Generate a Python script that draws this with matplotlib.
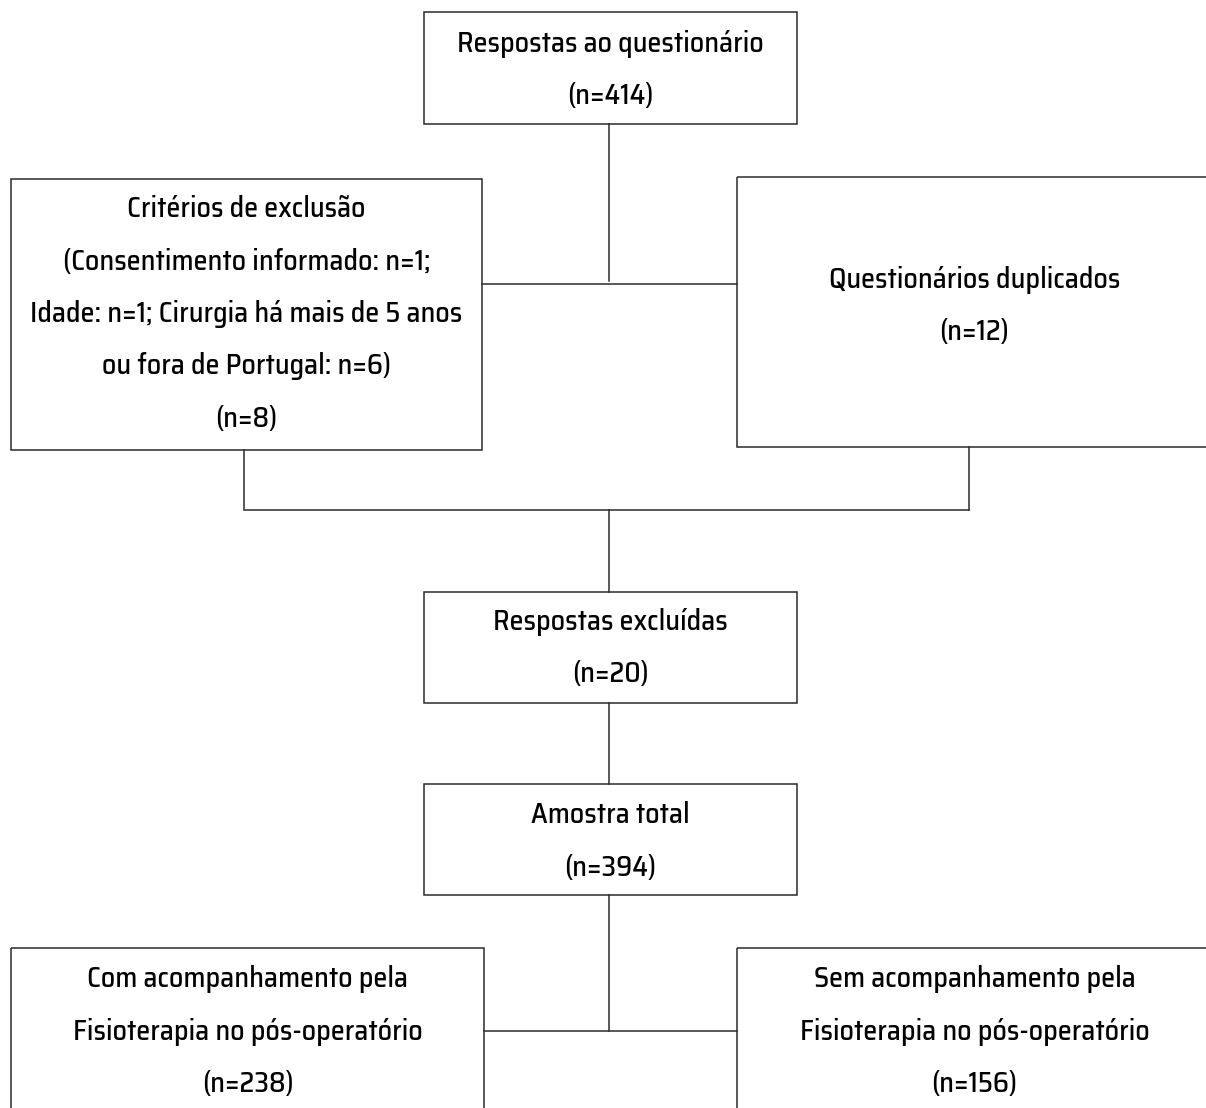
import matplotlib.pyplot as plt
from matplotlib.patches import Rectangle

plt.rcParams['font.family'] = ['Saira SemiCondensed', 'DejaVu Sans']

# box texts (label lines + count)
labels = [
    ["Respostas ao questionário"],
    ["Critérios de exclusão", "(Consentimento informado: n=1;",
     "Idade: n=1; Cirurgia há mais de 5 anos", "ou fora de Portugal: n=6)"],
    ["Questionários duplicados"],
    ["Respostas excluídas"],
    ["Amostra total"],
    ["Com acompanhamento pela", "Fisioterapia no pós-operatório"],
    ["Sem acompanhamento pela", "Fisioterapia no pós-operatório"],
]
counts = [414, 8, 12, 20, 394, 238, 156]

# box geometry in pixels: x0, y0, x1, y1, first text line y
boxes = [
    (424, 12, 797, 124, 44),
    (11, 179, 482, 450, 209),
    (737, 177, 1212, 447, 280),
    (424, 592, 797, 703, 622),
    (424, 784, 797, 895, 815),
    (11, 948, 484, 1115, 979),
    (737, 948, 1212, 1115, 979),
]
line_gap = 52.5

fig = plt.figure(figsize=(12.06, 11.08), dpi=100)
ax = fig.add_axes([0, 0, 1, 1])
ax.set_xlim(0, 1206)
ax.set_ylim(1108, 0)
ax.axis('off')

lc = '#2b2b2b'
for (x0, y0, x1, y1, ty), lab, n in zip(boxes, labels, counts):
    ax.add_patch(Rectangle((x0, y0), x1 - x0, y1 - y0, fill=False,
                           edgecolor=lc, lw=1.1))
    lines = lab + ["(n=%d)" % n]
    # boxes running off the right edge: centre text on the visible part
    cx = (x0 + x1) / 2 if x1 <= 1206 else (x0 + 1212) / 2
    for i, t in enumerate(lines):
        ax.text(cx, ty + i * line_gap, t, ha='center', va='center',
                fontsize=20.3, fontweight='medium', color='black')

# connectors
segs = [
    ((609, 124), (609, 281)),
    ((482, 284), (737, 284)),
    ((244, 450), (244, 510)),
    ((969, 447), (969, 510)),
    ((245, 510), (969, 510)),
    ((609, 510), (609, 592)),
    ((609, 703), (609, 784)),
    ((609, 895), (609, 1031)),
    ((484, 1031), (737, 1031)),
]
for (xa, ya), (xb, yb) in segs:
    ax.plot([xa, xb], [ya, yb], color=lc, lw=1.1)

fig.savefig('out.png', dpi=100)
